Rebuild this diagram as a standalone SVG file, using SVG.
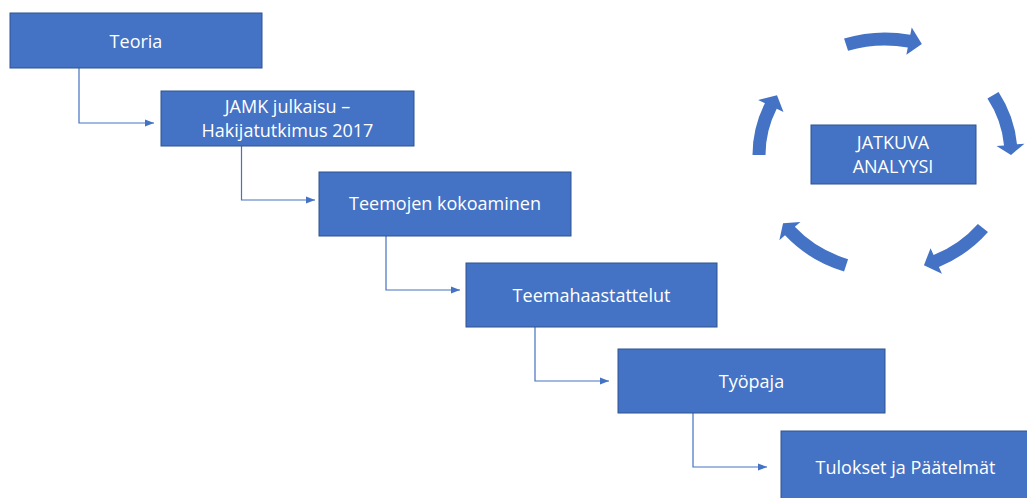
<svg xmlns="http://www.w3.org/2000/svg" width="1027" height="498" viewBox="0 0 1027 498">
  <style>
    .box { fill: #4472C4; stroke: #2F528F; stroke-width: 1; }
    .lbl { fill: #FFFFFF; font-family: "Open Sans", "Liberation Sans", sans-serif; font-size: 18px; text-anchor: middle; }
    .conn { fill: none; stroke: #4472C4; stroke-width: 1.2; marker-end: url(#ah); }
    .cyc { fill: #4472C4; stroke: none; }
  </style>
  <defs>
    <marker id="ah" markerWidth="10" markerHeight="8" refX="9" refY="4" orient="auto" markerUnits="userSpaceOnUse">
      <path d="M0,0.5 L9,4 L0,7.5 Z" fill="#4472C4"/>
    </marker>
  </defs>
  <rect width="1027" height="498" fill="#FFFFFF"/>

  <!-- step connectors -->
  <g id="connectors">
    <polyline class="conn" points="79,68 79,123 154,123"/>
    <polyline class="conn" points="241.5,146 241.5,200 315,200"/>
    <polyline class="conn" points="386,236 386,290 460,290"/>
    <polyline class="conn" points="535,327 535,381 609,381"/>
    <polyline class="conn" points="693,413 693,467 767,467"/>
  </g>

  <!-- waterfall steps -->
  <g id="teoria">
    <rect class="box" x="10" y="13" width="252" height="55"/>
    <text class="lbl" x="136" y="48">Teoria</text>
  </g>
  <g id="jamk">
    <rect class="box" x="161" y="91" width="253" height="55"/>
    <text class="lbl" x="287.5" y="113">JAMK julkaisu –</text>
    <text class="lbl" x="287.5" y="137">Hakijatutkimus 2017</text>
  </g>
  <g id="teemojen">
    <rect class="box" x="319" y="172" width="252" height="64"/>
    <text class="lbl" x="445" y="210">Teemojen kokoaminen</text>
  </g>
  <g id="teemahaastattelut">
    <rect class="box" x="466" y="263" width="251" height="64"/>
    <text class="lbl" x="591.5" y="302">Teemahaastattelut</text>
  </g>
  <g id="tyopaja">
    <rect class="box" x="618" y="349" width="267" height="64"/>
    <text class="lbl" x="751.5" y="388">Työpaja</text>
  </g>
  <g id="tulokset">
    <rect class="box" x="781" y="431" width="252" height="75"/>
    <text class="lbl" x="905.5" y="474">Tulokset ja Päätelmät</text>
  </g>

  <!-- continuous analysis cycle -->
  <g id="jatkuva">
    <rect class="box" x="811" y="125" width="165" height="59"/>
    <text class="lbl" x="893" y="149">JATKUVA</text>
    <text class="lbl" x="893" y="173">ANALYYSI</text>
  </g>
  <g id="cycle-arrows">
    <path class="cyc" d="M844.06,38.50 A132.5,122.5 0 0 1 910.28,34.75 L911.71,27.39 L921.84,44.07 L906.37,54.87 L907.80,47.51 A119.5,109.5 0 0 0 848.07,50.86 Z"/>
    <path class="cyc" d="M998.57,91.91 A132.5,122.5 0 0 1 1016.99,144.32 L1024.47,143.67 L1011,155 L996.57,146.11 L1004.04,145.46 A119.5,109.5 0 0 0 987.43,98.60 Z"/>
    <path class="cyc" d="M987.97,232.09 A132.5,122.5 0 0 1 938.89,266.91 L941.94,273.76 L923.94,265.32 L930.55,248.18 L933.61,255.03 A119.5,109.5 0 0 0 977.87,223.91 Z"/>
    <path class="cyc" d="M844.06,271.50 A132.5,122.5 0 0 1 785.00,235.37 L779.34,240.29 L783.06,223.18 L800.47,221.92 L794.81,226.84 A119.5,109.5 0 0 0 848.07,259.14 Z"/>
    <path class="cyc" d="M752.5,155 A132.5,122.5 0 0 1 764.91,103.23 L758.12,100.06 L777.00,95.26 L783.49,111.89 L776.70,108.72 A119.5,109.5 0 0 0 765.5,155 Z"/>
  </g>
</svg>
